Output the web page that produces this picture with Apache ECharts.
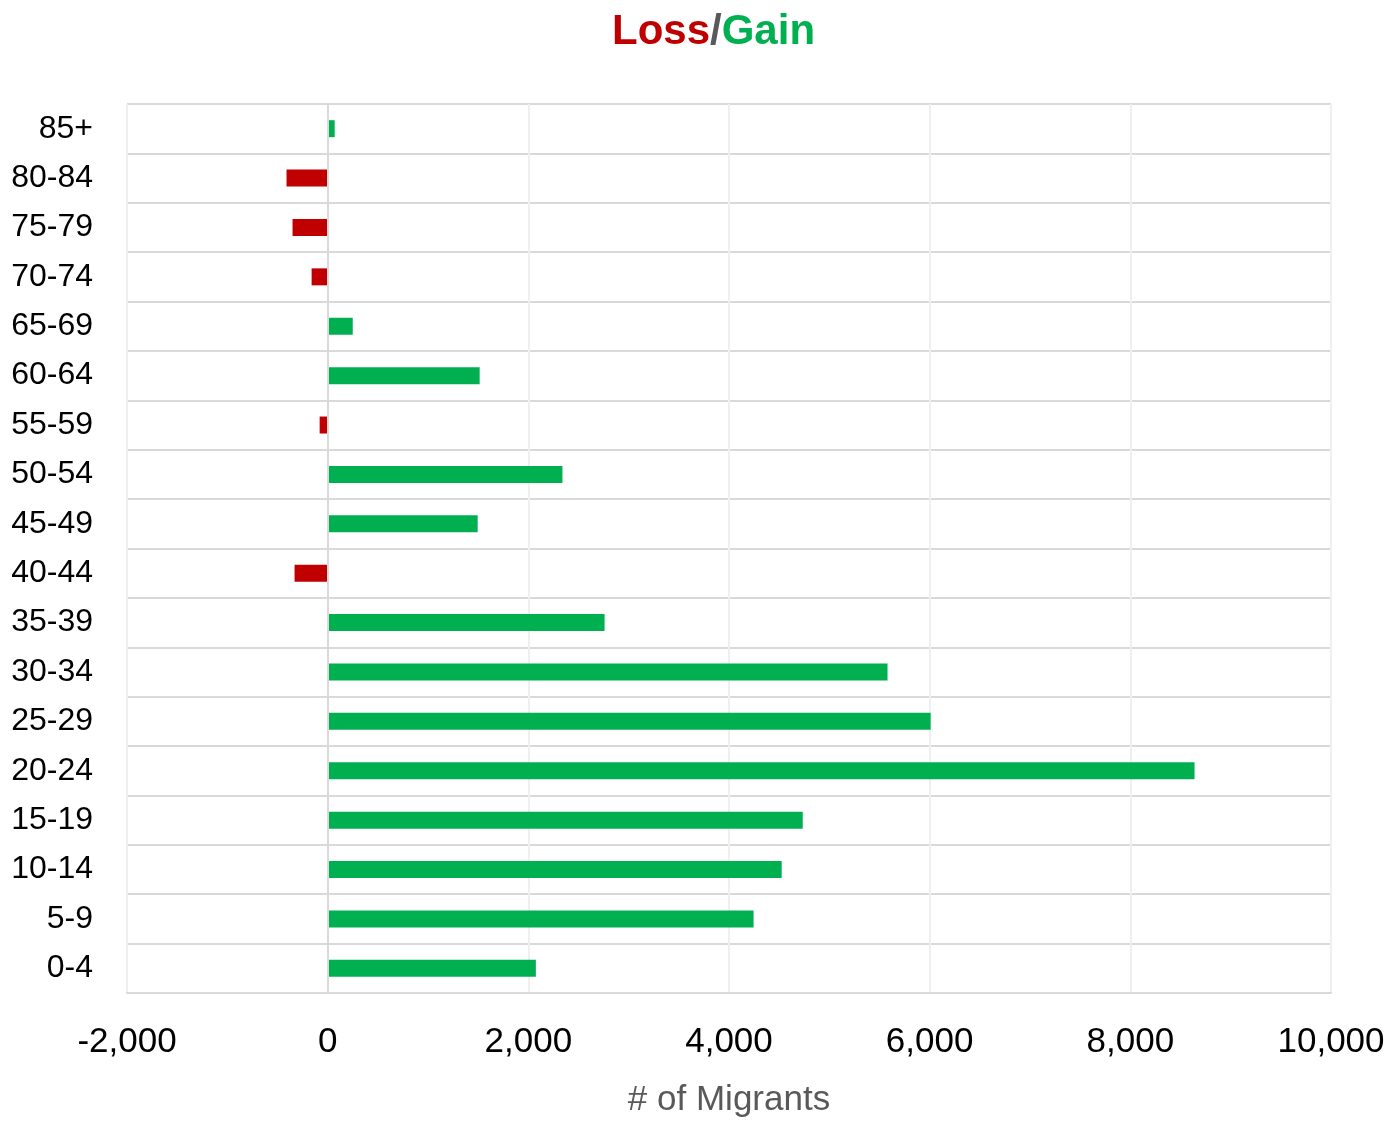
<!DOCTYPE html>
<html>
<head>
<meta charset="utf-8">
<script src="https://cdn.jsdelivr.net/npm/echarts@6/dist/echarts.min.js"></script>
<style>html,body{margin:0;padding:0;background:#fff}#c{width:1390px;height:1123px}</style>
</head>
<body>
<div id="c"></div>
<script>
var categories = ['0-4','5-9','10-14','15-19','20-24','25-29','30-34','35-39','40-44','45-49','50-54','55-59','60-64','65-69','70-74','75-79','80-84','85+'];
var migrants = [2075, 4245, 4525, 4735, 8640, 6010, 5580, 2760, -330, 1495, 2340, -80, 1515, 250, -160, -350, -410, 70];
var xTicks = { min: -2000, max: 10000, interval: 2000 };

var FONT = "'Liberation Sans Narrow', 'Arial Narrow', 'Liberation Sans', Arial, sans-serif";
var chart = echarts.init(document.getElementById('c'), null, { renderer: 'canvas' });
chart.setOption({
  animation: false,
  title: {
    text: '{l|Loss}{s|/}{g|Gain}',
    left: 607, top: 6,
    textStyle: {
      rich: {
        l: { color: '#c00000', fontFamily: FONT, fontWeight: 'bold', fontSize: 42 },
        s: { color: '#595959', fontFamily: FONT, fontWeight: 'bold', fontSize: 42 },
        g: { color: '#00b050', fontFamily: FONT, fontWeight: 'bold', fontSize: 42 }
      }
    }
  },
  grid: { left: 127, right: 59, top: 104, bottom: 130, containLabel: false, outerBoundsMode: 'none' },
  xAxis: {
    type: 'value',
    min: xTicks.min, max: xTicks.max, interval: xTicks.interval,
    name: '# of Migrants',
    nameLocation: 'middle',
    nameGap: 90,
    nameTextStyle: { color: '#595959', fontFamily: FONT, fontSize: 35 },
    axisLine: { show: true, lineStyle: { color: '#d9d9d9', width: 2 } },
    axisTick: { show: false },
    axisLabel: {
      color: '#000', fontFamily: FONT, fontSize: 35, margin: 32,
      formatter: function (v) { return v.toLocaleString('en-US'); }
    },
    splitLine: { show: true, lineStyle: { color: '#efefef', width: 2 } }
  },
  yAxis: {
    type: 'category',
    data: categories,
    axisLine: { show: false },
    axisTick: { show: false },
    axisLabel: { color: '#000', fontFamily: FONT, fontSize: 32, margin: 34 },
    splitLine: { show: true, lineStyle: { color: '#d9d9d9', width: 2 } }
  },
  series: [{
    type: 'bar',
    data: migrants.map(function (v) {
      return { value: v, itemStyle: { color: v < 0 ? '#c00000' : '#00b050' } };
    }),
    barWidth: 17,
    markLine: {
      silent: true, symbol: 'none', label: { show: false },
      lineStyle: { color: '#d9d9d9', width: 2, type: 'solid' },
      data: [{ xAxis: 0 }]
    }
  }]
});
</script>
</body>
</html>
